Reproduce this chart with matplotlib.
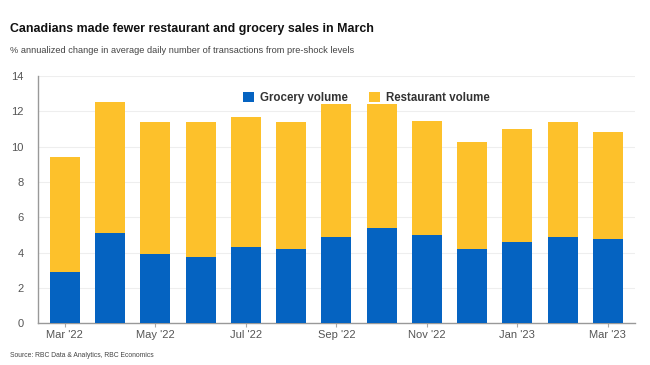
import numpy as np
import matplotlib.pyplot as plt
from matplotlib.ticker import MultipleLocator

months = ["Mar '22", "Apr '22", "May '22", "Jun '22", "Jul '22", "Aug '22", "Sep '22",
          "Oct '22", "Nov '22", "Dec '22", "Jan '23", "Feb '23", "Mar '23"]
grocery = [2.9, 5.1, 3.9, 3.75, 4.3, 4.2, 4.9, 5.4, 5.0, 4.2, 4.6, 4.9, 4.8]
total = [9.4, 12.5, 11.4, 11.4, 11.7, 11.4, 12.4, 12.4, 11.45, 10.25, 11.0, 11.4, 10.8]
restaurant = [t - g for t, g in zip(total, grocery)]

BLUE = '#0563c1'
YELLOW = '#fdc12b'
GRAY = '#555555'

plt.rcParams['font.family'] = ['Liberation Sans', 'DejaVu Sans']

fig = plt.figure(figsize=(6.5, 3.65), dpi=100)
ax = fig.add_axes([0.058, 0.114, 0.919, 0.678])

x = np.arange(len(months))
ax.bar(x, grocery, 0.66, color=BLUE, label='Grocery volume', zorder=3)
ax.bar(x, restaurant, 0.66, bottom=grocery, color=YELLOW, label='Restaurant volume', zorder=3)

ax.set_xlim(-0.6, len(months) - 0.4)
ax.set_ylim(0, 14)
ax.yaxis.set_major_locator(MultipleLocator(2))
ax.set_xticks(x[::2])
ax.set_xticklabels(months[::2])
ax.tick_params(axis='x', length=3, color='#aaaaaa', labelsize=8, labelcolor=GRAY, pad=2)
ax.tick_params(axis='y', length=0, labelsize=8, labelcolor=GRAY, pad=10)
ax.grid(axis='y', color='#eeeeee', linewidth=0.8, zorder=0)

for side in ['top', 'right']:
    ax.spines[side].set_visible(False)
for side in ['left', 'bottom']:
    ax.spines[side].set_color('#999999')
    ax.spines[side].set_linewidth(1.0)

leg = ax.legend(loc='center', bbox_to_anchor=(0.55, 0.91), ncol=2, frameon=False,
                fontsize=8.3, handlelength=1.0, handleheight=1.0, columnspacing=1.8,
                handletextpad=0.5)
for t in leg.get_texts():
    t.set_color('#333333')
    t.set_fontweight('bold')

fig.text(0.015, 0.92, 'Canadians made fewer restaurant and grocery sales in March',
         fontsize=8.9, fontweight='bold', color='#111111', va='center')
fig.text(0.015, 0.863, '% annualized change in average daily number of transactions from pre-shock levels',
         fontsize=6.7, color='#444444', va='center')
fig.text(0.015, 0.025, 'Source: RBC Data & Analytics, RBC Economics',
         fontsize=4.9, color='#444444', va='center')

fig.savefig('out.png', dpi=100)
